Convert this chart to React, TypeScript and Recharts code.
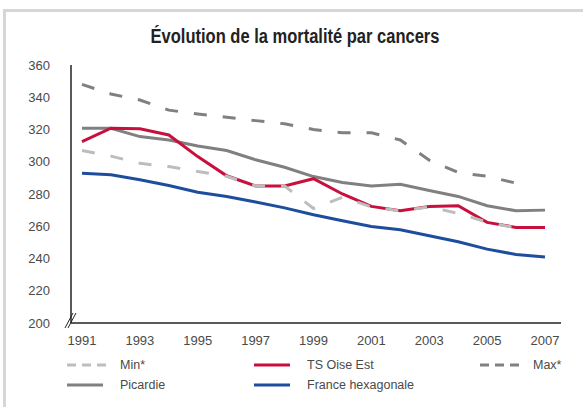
import { LineChart, Line, XAxis, YAxis } from "recharts"

const years = [
  "1991", "1992", "1993", "1994", "1995", "1996", "1997", "1998", "1999",
  "2000", "2001", "2002", "2003", "2004", "2005", "2006", "2007",
]
const minValues = [307, 303.5, 299, 297, 294, 291, 285, 285, 271, 278, 272, 269.5, 272, 268, 262.5, 259, null]
const oiseEst = [312.5, 320.8, 320.4, 316.6, 303.2, 291.3, 285, 285, 289.5, 280, 272.3, 269.6, 272.3, 272.7, 262.4, 259.3, 259.3]
const maxValues = [348, 342, 338.3, 332, 329.6, 327.6, 325.5, 323.5, 320, 318, 318, 313.5, 301, 293.3, 291, 286.7, null]
const picardie = [320.8, 320.8, 315.6, 313.5, 309.8, 307, 301.2, 296.6, 290.8, 287.1, 285, 286.1, 282.2, 278.5, 272.7, 269.6, 270]
const france = [292.9, 291.9, 288.8, 285.3, 281.1, 278.5, 275, 271.4, 267.1, 263.4, 259.9, 257.8, 254.1, 250.4, 245.8, 242.5, 240.9]
const yTicks = [200, 220, 240, 260, 280, 300, 320, 340, 360]

const data = years.map((year, i) => ({
  year,
  min: minValues[i],
  oise: oiseEst[i],
  max: maxValues[i],
  picardie: picardie[i],
  france: france[i],
}))

const RED = "#c8103c"
const BLUE = "#1f4d9e"
const GREY = "#808080"
const LIGHT = "#bdbdbd"
const DASH = "13 16"

const legendItems = [
  { label: "Min*", color: LIGHT, dashed: true, left: 67, top: 358 },
  { label: "TS Oise Est", color: RED, dashed: false, left: 254, top: 358 },
  { label: "Max*", color: GREY, dashed: true, left: 480, top: 358 },
  { label: "Picardie", color: GREY, dashed: false, left: 67, top: 378 },
  { label: "France hexagonale", color: BLUE, dashed: false, left: 254, top: 378 },
]

const font = "'Liberation Sans', Arial, sans-serif"

export default function App() {
  return (
    <div
      style={{
        position: "absolute",
        left: 0,
        top: 0,
        width: 583,
        height: 407,
        overflow: "hidden",
        background: "#fff",
        fontFamily: font,
      }}
    >
      <div
        style={{
          position: "absolute",
          left: 3,
          top: 9,
          width: 640,
          height: 460,
          border: "3px solid #d6d6d6",
        }}
      />
      <div
        style={{
          position: "absolute",
          left: 0,
          width: 590,
          top: 25,
          textAlign: "center",
          fontWeight: "bold",
          fontSize: 20,
          color: "#222",
          transform: "scaleX(0.825)",
          transformOrigin: "295px 0",
        }}
      >
        Évolution de la mortalité par cancers
      </div>
      <div style={{ position: "absolute", left: 0, top: 0 }}>
        <LineChart width={583} height={350} data={data} margin={{ top: 65, right: 22, bottom: 0, left: 0 }}>
          <XAxis
            dataKey="year"
            interval={1}
            tickLine={false}
            axisLine={{ stroke: "#222", strokeWidth: 1.5 }}
            padding={{ left: 11, right: 16 }}
            tick={{ fill: "#4a4a4a", fontSize: 13, fontFamily: font }}
            tickMargin={7}
            height={27}
          />
          <YAxis
            domain={[200, 360]}
            ticks={yTicks}
            interval={0}
            width={71}
            tickLine={false}
            axisLine={{ stroke: "#222", strokeWidth: 1.5 }}
            tick={{ fill: "#4a4a4a", fontSize: 13, fontFamily: font }}
            tickMargin={15}
          />
          <Line dataKey="max" stroke={GREY} strokeWidth={3} strokeDasharray={DASH} dot={false} isAnimationActive={false} />
          <Line dataKey="picardie" stroke={GREY} strokeWidth={3} dot={false} isAnimationActive={false} />
          <Line dataKey="france" stroke={BLUE} strokeWidth={3} dot={false} isAnimationActive={false} />
          <Line dataKey="oise" stroke={RED} strokeWidth={3} dot={false} isAnimationActive={false} />
          <Line dataKey="min" stroke={LIGHT} strokeWidth={3} strokeDasharray={DASH} dot={false} isAnimationActive={false} />
        </LineChart>
      </div>
      {/* axis break mark */}
      <svg style={{ position: "absolute", left: 0, top: 0 }} width={583} height={407}>
        <line x1={65} y1={328} x2={73} y2={313} stroke="#222" strokeWidth={1} />
        <line x1={68} y1={328} x2={76} y2={313} stroke="#222" strokeWidth={1} />
      </svg>
      {legendItems.map((item) => (
        <div
          key={item.label}
          style={{ position: "absolute", left: item.left, top: item.top, display: "flex", alignItems: "center" }}
        >
          <svg width={40} height={14}>
            <line
              x1={0}
              y1={7}
              x2={item.dashed ? 40 : 36}
              y2={7}
              stroke={item.color}
              strokeWidth={3}
              strokeDasharray={item.dashed ? "9 6" : undefined}
            />
          </svg>
          <span style={{ marginLeft: 13, fontSize: 12.5, color: "#4a4a4a" }}>{item.label}</span>
        </div>
      ))}
    </div>
  )
}
